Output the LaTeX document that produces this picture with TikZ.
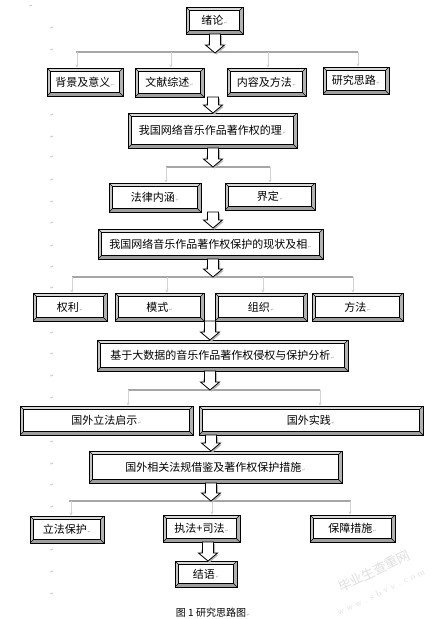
\documentclass[tikz,border=0pt]{standalone}
\usepackage{fontspec}
\usetikzlibrary{arrows.meta,calc}
\newfontfamily\cjk{Noto Sans CJK SC}
\newfontfamily\djv{DejaVu Sans}
\newcommand\pmark{{\djv\fontsize{4}{4}\selectfont\color{gray!80}\,↵}}
\newcommand\bevbox[6]{\node[bev, minimum width={(#4-#2)*1pt}, minimum height={(#5-#3)*1pt}] (#1) at ({(#2+#4)/2},{(#3+#5)/2}) {#6\pmark};}
\newcommand\blockarr[3]{%
  \fill[gray!55] (#1-5.5+1.5,#2+1.5) -- (#1+5.5+1.5,#2+1.5) -- (#1+5.5+1.5,#3-8+1.5) -- (#1+9.5+1.5,#3-8+1.5) -- (#1+1.5,#3+1.5) -- (#1-9.5+1.5,#3-8+1.5) -- cycle;
  \draw[blockarrow] (#1-5.5,#2) -- (#1+5.5,#2) -- (#1+5.5,#3-8) -- (#1+9.5,#3-8) -- (#1,#3) -- (#1-9.5,#3-8) -- (#1-5.5,#3-8) -- cycle;}
\tikzset{
  bev/.style={draw=black, line width=1pt, fill=white, inner sep=0pt, rectangle,
    font=\cjk\fontsize{11}{12}\selectfont,
    path picture={
      \path (path picture bounding box.north west) coordinate (pNW)
            (path picture bounding box.north east) coordinate (pNE)
            (path picture bounding box.south west) coordinate (pSW)
            (path picture bounding box.south east) coordinate (pSE);
      \path ([shift={(3.4pt,-3.4pt)}]pNW) coordinate (qNW)
            ([shift={(-3.4pt,-3.4pt)}]pNE) coordinate (qNE)
            ([shift={(3.4pt,3.4pt)}]pSW) coordinate (qSW)
            ([shift={(-3.4pt,3.4pt)}]pSE) coordinate (qSE);
      \fill[gray!30] (pNW) -- (pNE) -- (qNE) -- (qNW) -- cycle;
      \fill[gray!45] (pNW) -- (qNW) -- (qSW) -- (pSW) -- cycle;
      \fill[gray!75] (pSW) -- (pSE) -- (qSE) -- (qSW) -- cycle;
      \fill[gray!60] (pNE) -- (pSE) -- (qSE) -- (qNE) -- cycle;
      \draw[line width=0.4pt] (pNW) -- (qNW) (pNE) -- (qNE) (pSW) -- (qSW) (pSE) -- (qSE);
      \draw[line width=0.7pt] (qNW) rectangle (qSE);
    }},
  blockarrow/.style={draw=black, line width=0.8pt, fill=white, line join=miter},
  bus/.style={draw=gray!70, line width=1.5pt},
  drop/.style={draw=gray!35, line width=1pt, -{Stealth[length=3pt,width=3pt]}},
  pm/.style={inner sep=0pt, font=\djv\fontsize{4}{4}\selectfont, text=gray!80},
  wmark/.style={rotate=26, text=gray!25, inner sep=0pt},
}
\begin{document}
\begin{tikzpicture}[x=1pt,y=-1pt]
\useasboundingbox[fill=white] (0,0) rectangle (437,619);

% paragraph marks in the left margin
\node[pm] (m0) at (31,6) {↵};
\foreach \yy [count=\i] in {28,50,115,137,157,180,202,223,246,267,288,333,354,376,398,442,464,485,507,550,572,594}
  \node[pm] (m\i) at (52,\yy) {↵};

% boxes
\bevbox{b0}{186}{7}{243}{34}{绪论}
\bevbox{b1}{47}{68}{123}{96}{背景及意义}
\bevbox{b2}{135}{68}{204}{97}{文献综述}
\bevbox{b3}{227}{68}{306}{96}{内容及方法}
\bevbox{b4}{323}{67}{389}{94}{研究思路}
\bevbox{c}{128}{113}{297}{148}{我国网络音乐作品著作权的理}
\bevbox{d1}{109}{183}{201}{212}{法律内涵}
\bevbox{d2}{225}{183}{315}{210}{界定}
\bevbox{e}{98}{229}{323}{259}{我国网络音乐作品著作权保护的现状及相}
\bevbox{f1}{33}{293}{107}{321}{权利}
\bevbox{f2}{115}{293}{204}{321}{模式}
\bevbox{f3}{215}{293}{307}{321}{组织}
\bevbox{f4}{312}{293}{403}{321}{方法}
\bevbox{g}{97}{340}{348}{371}{基于大数据的音乐作品著作权侵权与保护分析}
\bevbox{h1}{20}{406}{193}{435}{国外立法启示}
\bevbox{h2}{199}{406}{423}{435}{国外实践}
\bevbox{i}{89}{451}{342}{483}{国外相关法规借鉴及著作权保护措施}
\bevbox{j1}{30}{516}{104}{543}{立法保护}
\bevbox{j2}{163}{515}{240}{542}{执法+司法}
\bevbox{j3}{310}{515}{395}{542}{保障措施}
\bevbox{k}{175}{561}{237}{587}{结语}

% buses and drops
\coordinate (B1a) at (76,52); \coordinate (B1b) at (358,52);
\draw[bus] (B1a) -- (B1b);
\draw[drop] (77,52) -- (77,52 |- b1.north);
\draw[drop] (171,52) -- (171,52 |- b2.north);
\draw[drop] (268,52) -- (268,52 |- b3.north);
\draw[drop] (358,52) -- (358,52 |- b4.north);

\coordinate (B2a) at (166,167); \coordinate (B2b) at (270,167);
\draw[bus] (B2a) -- (B2b);
\draw[drop] (B2a) -- (B2a |- d1.north);
\draw[drop] (B2b) -- (B2b |- d2.north);

\coordinate (B3a) at (72,277); \coordinate (B3b) at (353,277);
\draw[bus] (B3a) -- (B3b);
\draw[drop] (B3a) -- (B3a |- f1.north);
\draw[drop] (167,277) -- (167,277 |- f2.north);
\draw[drop] (263,277) -- (263,277 |- f3.north);
\draw[drop] (B3b) -- (B3b |- f4.north);

\coordinate (B4a) at (128,390); \coordinate (B4b) at (320,390);
\draw[bus] (B4a) -- (B4b);
\draw[drop] (B4a) -- (B4a |- h1.north);
\draw[drop] (B4b) -- (B4b |- h2.north);

\coordinate (B5a) at (69,501); \coordinate (B5b) at (351,501);
\draw[bus] (B5a) -- (B5b);
\draw[drop] (71,501) -- (71,501 |- j1.north);
\draw[drop] (212,501) -- (212,501 |- j2.north);
\draw[drop] (350,501) -- (350,501 |- j3.north);

% hollow block arrows
\blockarr{215}{34}{53}
\blockarr{213}{97}{113}
\blockarr{213}{148}{167}
\blockarr{213}{212}{228}
\blockarr{213}{259}{277}
\blockarr{210}{321}{340}
\blockarr{210}{371}{390}
\blockarr{211}{435}{451}
\blockarr{211}{483}{501}
\blockarr{208}{542}{561}

% caption
\node[font=\cjk\fontsize{10}{12}\selectfont] (cap) at (213,613) {图 1 研究思路图\pmark};

% watermark
\node[wmark, font=\cjk\fontsize{13}{13}\selectfont] (wm1) at (374,571) {毕业生查重网};
\node[wmark, font=\fontsize{9}{9}\selectfont] (wm2) at (381,592) {w w w . s b v v . c o m};
\end{tikzpicture}
\end{document}
